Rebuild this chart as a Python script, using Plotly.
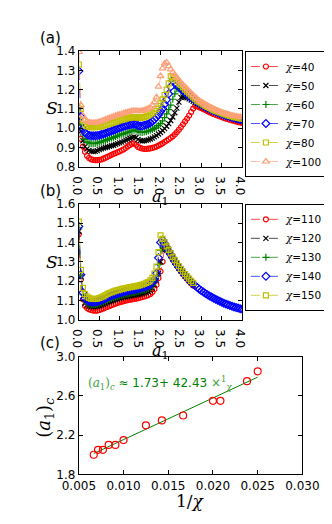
import plotly.graph_objects as go

# grid of a1 values used by all curves
a1 = [0.0, 0.05, 0.1, 0.15, 0.2, 0.25, 0.3, 0.35, 0.4, 0.45,
      0.5, 0.55, 0.6, 0.65, 0.7, 0.75, 0.8, 0.85, 0.9, 0.95,
      1.0, 1.05, 1.1, 1.15, 1.2, 1.25, 1.3, 1.35, 1.4, 1.45,
      1.5, 1.55, 1.6, 1.65, 1.7, 1.75, 1.8, 1.85, 1.9, 1.95,
      2.0, 2.05, 2.1, 2.15, 2.2, 2.25, 2.3, 2.35, 2.4, 2.45,
      2.5, 2.55, 2.6, 2.65, 2.7, 2.75, 2.8, 2.85, 2.9, 2.95,
      3.0, 3.05, 3.1, 3.15, 3.2, 3.25, 3.3, 3.35, 3.4, 3.45,
      3.5, 3.55, 3.6, 3.65, 3.7, 3.75, 3.8, 3.85, 3.9, 3.95,
      4.0]

# panel (a)
S40 = [1.008, 0.945, 0.905, 0.878, 0.857, 0.846, 0.839, 0.836, 0.835, 0.835,
       0.836, 0.838, 0.842, 0.847, 0.852, 0.857, 0.862, 0.867, 0.871, 0.876,
       0.880, 0.885, 0.891, 0.898, 0.906, 0.913, 0.919, 0.922, 0.914, 0.903,
       0.898, 0.895, 0.893, 0.893, 0.894, 0.896, 0.898, 0.901, 0.905, 0.910,
       0.916, 0.922, 0.929, 0.936, 0.943, 0.950, 0.958, 0.968, 0.980, 0.992,
       1.006, 1.020, 1.035, 1.050, 1.066, 1.084, 1.102, 1.115, 1.113, 1.108,
       1.104, 1.099, 1.094, 1.089, 1.083, 1.078, 1.074, 1.070, 1.066, 1.062,
       1.058, 1.054, 1.050, 1.047, 1.044, 1.041, 1.038, 1.035, 1.032, 1.030,
       1.027]
S50 = [1.050, 0.985, 0.935, 0.905, 0.893, 0.885, 0.880, 0.879, 0.880, 0.884,
       0.889, 0.893, 0.897, 0.900, 0.903, 0.906, 0.909, 0.912, 0.916, 0.920,
       0.924, 0.928, 0.933, 0.938, 0.943, 0.948, 0.952, 0.955, 0.952, 0.942,
       0.936, 0.934, 0.935, 0.937, 0.940, 0.944, 0.949, 0.955, 0.962, 0.970,
       0.978, 0.988, 0.998, 1.010, 1.024, 1.040, 1.058, 1.080, 1.104, 1.135,
       1.160, 1.162, 1.160, 1.157, 1.152, 1.146, 1.140, 1.134, 1.128, 1.122,
       1.116, 1.111, 1.106, 1.101, 1.096, 1.091, 1.086, 1.081, 1.077, 1.073,
       1.069, 1.065, 1.061, 1.058, 1.055, 1.052, 1.049, 1.046, 1.043, 1.040,
       1.038]
S60 = [1.107, 1.016, 0.965, 0.942, 0.930, 0.924, 0.921, 0.920, 0.921, 0.924,
       0.927, 0.930, 0.933, 0.937, 0.941, 0.945, 0.949, 0.953, 0.957, 0.961,
       0.965, 0.969, 0.972, 0.976, 0.979, 0.983, 0.987, 0.990, 0.991, 0.984,
       0.979, 0.978, 0.980, 0.982, 0.985, 0.989, 0.993, 0.999, 1.006, 1.014,
       1.024, 1.038, 1.055, 1.074, 1.096, 1.120, 1.150, 1.178, 1.205, 1.203,
       1.195, 1.187, 1.179, 1.171, 1.163, 1.156, 1.149, 1.142, 1.136, 1.130,
       1.122, 1.116, 1.110, 1.105, 1.100, 1.095, 1.090, 1.085, 1.081, 1.077,
       1.073, 1.069, 1.065, 1.062, 1.059, 1.056, 1.053, 1.050, 1.047, 1.044,
       1.042]
S70 = [1.296, 1.060, 0.998, 0.978, 0.968, 0.963, 0.961, 0.961, 0.961, 0.962,
       0.964, 0.967, 0.970, 0.974, 0.978, 0.982, 0.986, 0.990, 0.994, 0.998,
       1.002, 1.006, 1.010, 1.013, 1.016, 1.018, 1.020, 1.021, 1.019, 1.014,
       1.011, 1.012, 1.015, 1.018, 1.022, 1.028, 1.035, 1.045, 1.057, 1.070,
       1.086, 1.102, 1.124, 1.148, 1.178, 1.215, 1.247, 1.235, 1.224, 1.214,
       1.204, 1.194, 1.185, 1.176, 1.167, 1.159, 1.151, 1.143, 1.136, 1.129,
       1.123, 1.117, 1.111, 1.105, 1.100, 1.095, 1.090, 1.086, 1.082, 1.078,
       1.074, 1.070, 1.066, 1.063, 1.060, 1.057, 1.054, 1.051, 1.049, 1.046,
       1.044]
S80 = [1.330, 1.100, 1.040, 1.020, 1.011, 1.008, 1.006, 1.006, 1.006, 1.007,
       1.008, 1.010, 1.013, 1.016, 1.019, 1.023, 1.026, 1.029, 1.033, 1.036,
       1.040, 1.043, 1.046, 1.049, 1.052, 1.054, 1.056, 1.057, 1.057, 1.055,
       1.054, 1.056, 1.058, 1.061, 1.065, 1.071, 1.078, 1.088, 1.100, 1.115,
       1.132, 1.150, 1.172, 1.200, 1.232, 1.270, 1.265, 1.257, 1.246, 1.235,
       1.224, 1.213, 1.200, 1.190, 1.180, 1.170, 1.160, 1.150, 1.142, 1.135,
       1.128, 1.122, 1.116, 1.110, 1.105, 1.099, 1.094, 1.090, 1.086, 1.082,
       1.078, 1.074, 1.070, 1.067, 1.064, 1.061, 1.058, 1.056, 1.053, 1.051,
       1.049]
S100 = [1.395, 1.120, 1.065, 1.045, 1.036, 1.031, 1.029, 1.028, 1.028, 1.030,
        1.033, 1.036, 1.040, 1.045, 1.049, 1.053, 1.057, 1.061, 1.065, 1.068,
        1.071, 1.074, 1.078, 1.081, 1.084, 1.087, 1.089, 1.090, 1.090, 1.089,
        1.089, 1.090, 1.093, 1.097, 1.102, 1.108, 1.118, 1.135, 1.160, 1.215,
        1.270, 1.310, 1.335, 1.341, 1.322, 1.305, 1.290, 1.276, 1.262, 1.248,
        1.236, 1.225, 1.214, 1.203, 1.192, 1.181, 1.171, 1.161, 1.152, 1.143,
        1.136, 1.129, 1.122, 1.116, 1.110, 1.105, 1.100, 1.095, 1.090, 1.086,
        1.082, 1.078, 1.075, 1.072, 1.069, 1.066, 1.064, 1.062, 1.060, 1.058,
        1.057]

# panel (b)  (chi=140 runs to 4.0, the others stop at 2.8)
S110 = [1.442, 1.208, 1.105, 1.072, 1.060, 1.054, 1.050, 1.047, 1.046, 1.047,
        1.050, 1.054, 1.058, 1.062, 1.066, 1.071, 1.075, 1.079, 1.083, 1.087,
        1.090, 1.093, 1.096, 1.099, 1.101, 1.103, 1.105, 1.107, 1.109, 1.111,
        1.114, 1.117, 1.120, 1.123, 1.127, 1.133, 1.143, 1.158, 1.180, 1.215,
        1.250, 1.300, 1.375, 1.365, 1.348, 1.330, 1.312, 1.295, 1.279, 1.264,
        1.250, 1.236, 1.223, 1.211, 1.199, 1.188, 1.177]
S120 = [1.458, 1.222, 1.120, 1.085, 1.075, 1.070, 1.068, 1.067, 1.067, 1.069,
        1.072, 1.075, 1.079, 1.083, 1.088, 1.092, 1.096, 1.100, 1.104, 1.107,
        1.110, 1.113, 1.116, 1.118, 1.120, 1.122, 1.124, 1.126, 1.128, 1.130,
        1.133, 1.136, 1.139, 1.142, 1.146, 1.152, 1.163, 1.180, 1.205, 1.240,
        1.300, 1.360, 1.385, 1.370, 1.351, 1.333, 1.315, 1.298, 1.282, 1.267,
        1.253, 1.239, 1.226, 1.214, 1.202, 1.191, 1.180]
S130 = [1.475, 1.228, 1.130, 1.098, 1.087, 1.081, 1.079, 1.078, 1.078, 1.080,
        1.083, 1.087, 1.091, 1.095, 1.100, 1.105, 1.109, 1.113, 1.117, 1.120,
        1.123, 1.126, 1.129, 1.132, 1.134, 1.137, 1.139, 1.141, 1.143, 1.145,
        1.148, 1.151, 1.154, 1.157, 1.161, 1.167, 1.178, 1.195, 1.225, 1.285,
        1.360, 1.400, 1.392, 1.372, 1.353, 1.335, 1.317, 1.300, 1.284, 1.269,
        1.255, 1.241, 1.228, 1.216, 1.204, 1.193, 1.182]
S140 = [1.483, 1.233, 1.140, 1.110, 1.100, 1.095, 1.093, 1.092, 1.092, 1.094,
        1.097, 1.101, 1.105, 1.110, 1.115, 1.120, 1.124, 1.128, 1.132, 1.135,
        1.138, 1.141, 1.144, 1.147, 1.150, 1.152, 1.154, 1.156, 1.158, 1.160,
        1.163, 1.166, 1.169, 1.172, 1.176, 1.182, 1.193, 1.208, 1.240, 1.320,
        1.400, 1.412, 1.395, 1.375, 1.356, 1.338, 1.320, 1.303, 1.287, 1.272,
        1.258, 1.244, 1.231, 1.219, 1.207, 1.196, 1.185, 1.176, 1.167, 1.158,
        1.150, 1.143, 1.136, 1.129, 1.123, 1.117, 1.111, 1.105, 1.100, 1.095,
        1.090, 1.085, 1.081, 1.077, 1.073, 1.069, 1.066, 1.063, 1.060, 1.057,
        1.055]
S150 = [1.508, 1.258, 1.165, 1.132, 1.120, 1.113, 1.109, 1.107, 1.107, 1.109,
        1.112, 1.116, 1.121, 1.127, 1.133, 1.138, 1.142, 1.146, 1.150, 1.153,
        1.156, 1.159, 1.161, 1.164, 1.166, 1.168, 1.170, 1.172, 1.174, 1.176,
        1.179, 1.182, 1.186, 1.190, 1.195, 1.203, 1.216, 1.238, 1.275, 1.350,
        1.437, 1.418, 1.400, 1.380, 1.361, 1.343, 1.325, 1.308, 1.292, 1.277,
        1.263, 1.249, 1.236, 1.224, 1.212, 1.201, 1.190]

# panel (c)
chi_c = [150, 140, 130, 120, 110, 100, 80, 70, 60, 50, 48, 42, 40]
a1_c = [2.00, 2.05, 2.05, 2.10, 2.10, 2.15, 2.30, 2.35, 2.40, 2.55, 2.55, 2.75, 2.85]
fit_b0, fit_b1 = 1.73, 42.43

RED, BLK, GRN, BLU, YEL, SAL = 'red', 'black', '#008000', 'blue', '#bfbf00', '#ffa07a'
MARK = {
    'o': dict(symbol='circle-open', size=5),
    'x': dict(symbol='x-thin', size=5),
    '+': dict(symbol='cross-thin', size=5),
    'D': dict(symbol='diamond-open', size=6),
    's': dict(symbol='square-open', size=5),
    '^': dict(symbol='triangle-up-open', size=6),
}

def chi_name(c):
    return "<span style='font-family:DejaVu Serif'><i>χ</i></span>=%d" % c

fig = go.Figure()

panel_a = [(40, S40, RED, 'o'), (50, S50, BLK, 'x'), (60, S60, GRN, '+'),
           (70, S70, BLU, 'D'), (80, S80, YEL, 's'), (100, S100, SAL, '^')]
for chi, s, col, m in panel_a:
    fig.add_trace(go.Scatter(
        x=a1[:len(s)], y=s, mode='lines+markers', name=chi_name(chi),
        line=dict(color=col, width=0.7, dash='dash'),
        marker=dict(color=col, line=dict(color=col, width=1.2), **MARK[m]),
        xaxis='x', yaxis='y', legend='legend'))

panel_b = [(110, S110, RED, 'o'), (120, S120, BLK, 'x'), (130, S130, GRN, '+'),
           (140, S140, BLU, 'D'), (150, S150, YEL, 's')]
for chi, s, col, m in panel_b:
    fig.add_trace(go.Scatter(
        x=a1[:len(s)], y=s, mode='lines+markers', name=chi_name(chi),
        line=dict(color=col, width=0.7, dash='dash'),
        marker=dict(color=col, line=dict(color=col, width=1.2), **MARK[m]),
        xaxis='x2', yaxis='y2', legend='legend2'))

inv_chi = [1.0 / c for c in chi_c]
fit_x = [min(inv_chi), max(inv_chi)]
fig.add_trace(go.Scatter(
    x=fit_x, y=[fit_b0 + fit_b1 * v for v in fit_x], mode='lines',
    line=dict(color=GRN, width=1), showlegend=False, xaxis='x3', yaxis='y3'))
fig.add_trace(go.Scatter(
    x=inv_chi, y=a1_c, mode='markers', showlegend=False,
    marker=dict(symbol='circle-open', size=7, color=RED, line=dict(color=RED, width=1.2)),
    xaxis='x3', yaxis='y3'))

W, H = 332, 524
def px(x):
    return x / W
def py(y):
    return 1 - y / H

ax = dict(showline=True, linecolor='black', linewidth=1, mirror='ticks',
          ticks='inside', ticklen=4, tickcolor='black', showgrid=False, zeroline=False,
          tickfont=dict(family='DejaVu Sans', size=12, color='black'))

fig.update_layout(
    width=W, height=H, margin=dict(l=0, r=0, t=0, b=0),
    paper_bgcolor='white', plot_bgcolor='white',
    font=dict(family='DejaVu Sans', color='black'),
    xaxis=dict(ax, domain=[px(60), px(242)], anchor='y', range=[0, 4], dtick=0.5, tickformat='.1f'),
    yaxis=dict(ax, domain=[py(156), py(37)], anchor='x', range=[0.8, 1.4], dtick=0.1, tickformat='.1f'),
    xaxis2=dict(ax, domain=[px(60), px(242)], anchor='y2', range=[0, 4], dtick=0.5, tickformat='.1f'),
    yaxis2=dict(ax, domain=[py(313), py(194)], anchor='x2', range=[1.0, 1.6], dtick=0.1, tickformat='.1f'),
    xaxis3=dict(ax, domain=[px(60), px(309)], anchor='y3', range=[0.005, 0.030], dtick=0.005, tickformat='.3f'),
    yaxis3=dict(ax, domain=[py(472), py(351)], anchor='x3', range=[1.8, 3.0], tick0=1.8, dtick=0.4, tickformat='.1f'),
    legend=dict(x=px(245), y=py(37), xanchor='left', yanchor='top', bgcolor='white',
                bordercolor='black', borderwidth=1, font=dict(size=10.5), itemwidth=30,
                tracegroupgap=0),
    legend2=dict(x=px(245), y=py(194), xanchor='left', yanchor='top', bgcolor='white',
                 bordercolor='black', borderwidth=1, font=dict(size=10.5), itemwidth=30,
                 tracegroupgap=0),
)

serif = dict(family='DejaVu Serif', size=17, color='black')
ann = [
    dict(text='(a)', x=px(14), y=py(24), xanchor='left', font=dict(size=15)),
    dict(text='(b)', x=px(14), y=py(181), xanchor='left', font=dict(size=15)),
    dict(text='(c)', x=px(14), y=py(337), xanchor='left', font=dict(size=15)),
    dict(text='<i>S</i>', x=px(30), y=py(96), font=serif),
    dict(text='<i>S</i>', x=px(30), y=py(254), font=serif),
    dict(text='<i>a</i><sub>1</sub>', x=px(151), y=py(187), font=dict(serif, size=16)),
    dict(text='<i>a</i><sub>1</sub>', x=px(151), y=py(346), font=dict(serif, size=16)),
    dict(text='1/<i>χ</i>', x=px(184), y=py(499), font=serif),
    dict(text='(<i>a</i><sub>1</sub>)<sub><i>c</i></sub>', x=px(22), y=py(414),
         textangle=-90, font=dict(serif, size=18)),
    dict(text="<span style='font-family:DejaVu Serif;color:#3ca03c'>(<i>a</i><sub>1</sub>)<sub><i>c</i></sub></span>"
              " ≈ 1.73+ 42.43 "
              "<span style='font-family:DejaVu Serif;color:#3ca03c'>×<sup>1</sup><sub><i>χ</i></sub></span>",
         x=px(68), y=py(378), xanchor='left', font=dict(family='DejaVu Sans', size=12, color=GRN)),
]
for a in ann:
    a.update(xref='paper', yref='paper', showarrow=False)
    a.setdefault('yanchor', 'middle')
    a.setdefault('xanchor', 'center')
fig.update_layout(annotations=ann)

fig.write_html("out.html")
